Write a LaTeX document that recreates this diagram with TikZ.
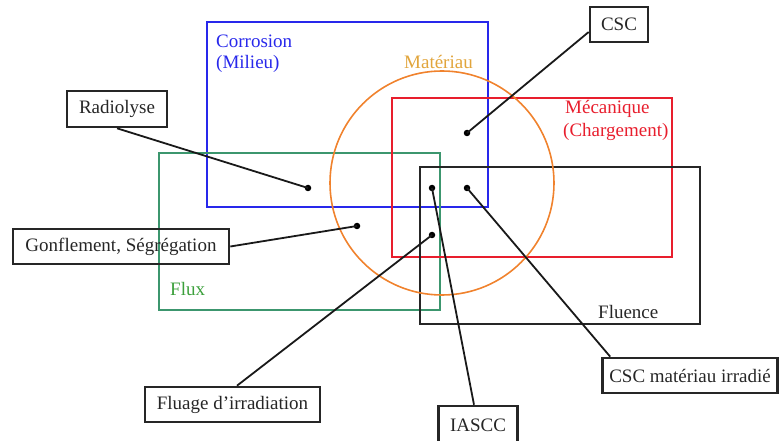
\documentclass[tikz,border=0pt]{standalone}
\usepackage{fontspec}
\setmainfont{Liberation Serif}
\definecolor{cblue}{RGB}{40,40,235}
\definecolor{cgreen}{RGB}{60,150,110}
\definecolor{cgreentxt}{RGB}{60,160,60}
\definecolor{cred}{RGB}{232,30,45}
\definecolor{corange}{RGB}{240,130,45}
\definecolor{cgold}{RGB}{225,165,60}
\begin{document}
\begin{tikzpicture}[x=1pt,y=-1pt,
  every node/.style={font=\fontsize{19}{23}\selectfont},
  region/.style={line width=1.6pt},
  label/.style={draw=black!85, line width=2.6pt, inner sep=0pt, text=black!85},
  conn/.style={line width=1.8pt, black!90},
  dot/.style={circle, fill=black, inner sep=0pt, minimum size=6.5pt},
  regtext/.style={inner sep=0pt, anchor=west}]
\useasboundingbox (0,0) rectangle (780,441);
% regions
\draw[region, cblue] (207,22) rectangle (488,207);
\draw[region, cgreen] (159,153) rectangle (440,310);
\draw[region, cred] (392,98) rectangle (672,257);
\draw[region, black!85] (420,167) rectangle (700,324);
\draw[region, corange] (442,183) circle (112);
% region labels
\node[regtext, text=cblue] (tcorr) at (216,41) {Corrosion};
\node[regtext, text=cblue] (tmil) at (216,64) {(Milieu)};
\node[regtext, text=cgold] (tmat) at (404,62) {Matériau};
\node[regtext, text=cred] (tmec) at (565,109) {Mécanique};
\node[regtext, text=cred] (tcha) at (563,132) {(Chargement)};
\node[regtext, text=cgreentxt] (tflux) at (170,289) {Flux};
\node[regtext, text=black!85] (tflu) at (598,312) {Fluence};
% dots
\node[dot] (d1) at (308,188) {};
\node[dot] (d2) at (357,226) {};
\node[dot] (d3) at (467,133) {};
\node[dot] (d4) at (432,188) {};
\node[dot] (d5) at (467,188) {};
\node[dot] (d6) at (432,235) {};
% label boxes
\node[label, minimum width=100pt, minimum height=36pt] (radio) at (117,109) {Radiolyse};
\node[label, minimum width=58pt, minimum height=35pt] (csc) at (619,24.5) {CSC};
\node[label, minimum width=216pt, minimum height=35pt] (gonf) at (121,246.5) {Gonflement, Ségrégation};
\node[label, minimum width=175pt, minimum height=35pt] (flua) at (232.5,404.5) {Fluage d’irradiation};
\node[label, minimum width=79pt, minimum height=38pt] (iascc) at (478,425) {IASCC};
\node[label, minimum width=175pt, minimum height=35pt] (cscm) at (690,375.5) {CSC matériau irradié};
% connectors
\draw[conn] (d1.center) -- (radio.south);
\draw[conn] (d2.center) -- (gonf.east);
\draw[conn] (d3.center) -- ([yshift=-7.5pt]csc.west);
\draw[conn] (d6.center) -- ([xshift=4.5pt]flua.north);
\draw[conn] (d4.center) -- ([xshift=-4pt]iascc.north);
\draw[conn] (d5.center) -- ([xshift=9pt]cscm.north west);
\end{tikzpicture}
\end{document}
